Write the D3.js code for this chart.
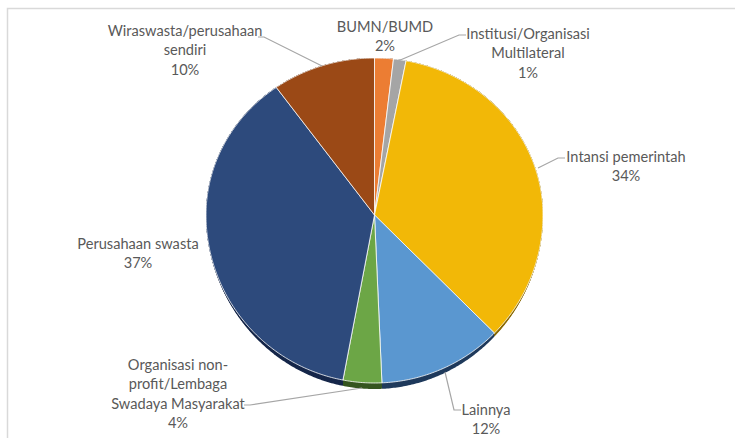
<!DOCTYPE html>
<html>
<head>
<meta charset="utf-8">
<script src="https://cdn.jsdelivr.net/npm/d3@7"></script>
<style>
  html, body { margin: 0; padding: 0; background: #ffffff; }
  svg { display: block; }
  text { font-family: "Lato", "Liberation Sans", sans-serif; fill: #595959; }
</style>
</head>
<body>
<svg id="chart" width="735" height="438"></svg>
<script>
// ---- data ----
const categories = [
  "BUMN/BUMD",
  "Institusi/Organisasi Multilateral",
  "Intansi pemerintah",
  "Lainnya",
  "Organisasi non-profit/Lembaga Swadaya Masyarakat",
  "Perusahaan swasta",
  "Wiraswasta/perusahaan sendiri"
];
const values = [1.8, 1.2, 34.4, 11.9, 3.7, 37.1, 9.9];
const percentLabels = ["2%", "1%", "34%", "12%", "4%", "37%", "10%"];

// ---- style / layout ----
const colors = ["#EC7D33", "#A5A5A5", "#F2B807", "#5A97D0", "#6CA646", "#2D4A7C", "#9B4916"];
const sideColors = ["#8a4a1e", "#606060", "#8a6a05", "#1f3a5c", "#35551f", "#16274a", "#5a2a0c"];
const labelLines = [
  ["BUMN/BUMD", "2%"],
  ["Institusi/Organisasi", "Multilateral", "1%"],
  ["Intansi pemerintah", "34%"],
  ["Lainnya", "12%"],
  ["Organisasi non-", "profit/Lembaga", "Swadaya Masyarakat", "4%"],
  ["Perusahaan swasta", "37%"],
  ["Wiraswasta/perusahaan", "sendiri", "10%"]
];
const labelPos = [
  {x: 385, y: 27},
  {x: 528, y: 34},
  {x: 626, y: 157},
  {x: 486, y: 410},
  {x: 178, y: 365},
  {x: 138, y: 244},
  {x: 185, y: 31}
];
const leaders = [
  null,
  [[466, 35], [459, 35], [398, 61]],
  [[565, 158], [558, 158], [538, 168]],
  [[461, 410], [454, 410], [445, 372]],
  [[244, 405], [250, 405], [362, 388]],
  null,
  [[258, 37], [264, 37], [322, 66]]
];

const svg = d3.select("#chart");

// frame
svg.append("rect")
  .attr("x", 7.5).attr("y", 8.5)
  .attr("width", 800).attr("height", 500)
  .attr("fill", "none").attr("stroke", "#d9d9d9").attr("stroke-width", 1.5);

const cx = 374.5, cy = 215, rx = 168.5, ryTop = 157, ryBot = 168, depth = 6;
function proj(a, k) {
  const c = Math.cos(a);
  const ry = c > 0 ? ryTop : ryBot;
  const shift = (k || 0) * Math.pow(Math.max(0, -c), 1.5);
  return [cx + rx * Math.sin(a), cy - ry * c + shift];
}
function slicePath(d, k) {
  const pts = [[cx, cy]];
  const n = Math.max(4, Math.ceil((d.endAngle - d.startAngle) / 0.01));
  for (let i = 0; i <= n; i++) {
    const a = d.startAngle + (d.endAngle - d.startAngle) * i / n;
    pts.push(proj(a, k));
  }
  return d3.line()(pts) + "Z";
}

const pie = d3.pie().sort(null).value(d => d);
const arcs = pie(values);

// side (extruded depth)
const side = svg.append("g");
for (let k = depth; k >= 1; k--) {
  side.selectAll(null).data(arcs).enter().append("path")
    .attr("d", d => slicePath(d, k))
    .attr("fill", (d, i) => sideColors[i]);
}

// top face
svg.append("g").selectAll("path").data(arcs).enter().append("path")
  .attr("d", d => slicePath(d, 0))
  .attr("fill", (d, i) => colors[i])
  .attr("stroke", "#ffffff")
  .attr("stroke-width", 0.8)
  .attr("stroke-linejoin", "round");

// leader lines
svg.append("g").selectAll("path").data(leaders.filter(l => l)).enter().append("path")
  .attr("d", d => d3.line()(d))
  .attr("fill", "none")
  .attr("stroke", "#a6a6a6")
  .attr("stroke-width", 1.2);

// labels
const fs = 14.6, lh = 19.3;
const lab = svg.append("g").selectAll("text").data(labelLines).enter().append("text")
  .attr("text-anchor", "middle")
  .attr("font-size", fs)
  .attr("x", (d, i) => labelPos[i].x)
  .attr("y", (d, i) => labelPos[i].y + 5);
lab.selectAll("tspan").data((d, i) => d.map(t => ({t, i}))).enter().append("tspan")
  .attr("x", d => labelPos[d.i].x)
  .attr("dy", (d, j) => j === 0 ? 0 : lh)
  .text(d => d.t);
</script>
</body>
</html>
